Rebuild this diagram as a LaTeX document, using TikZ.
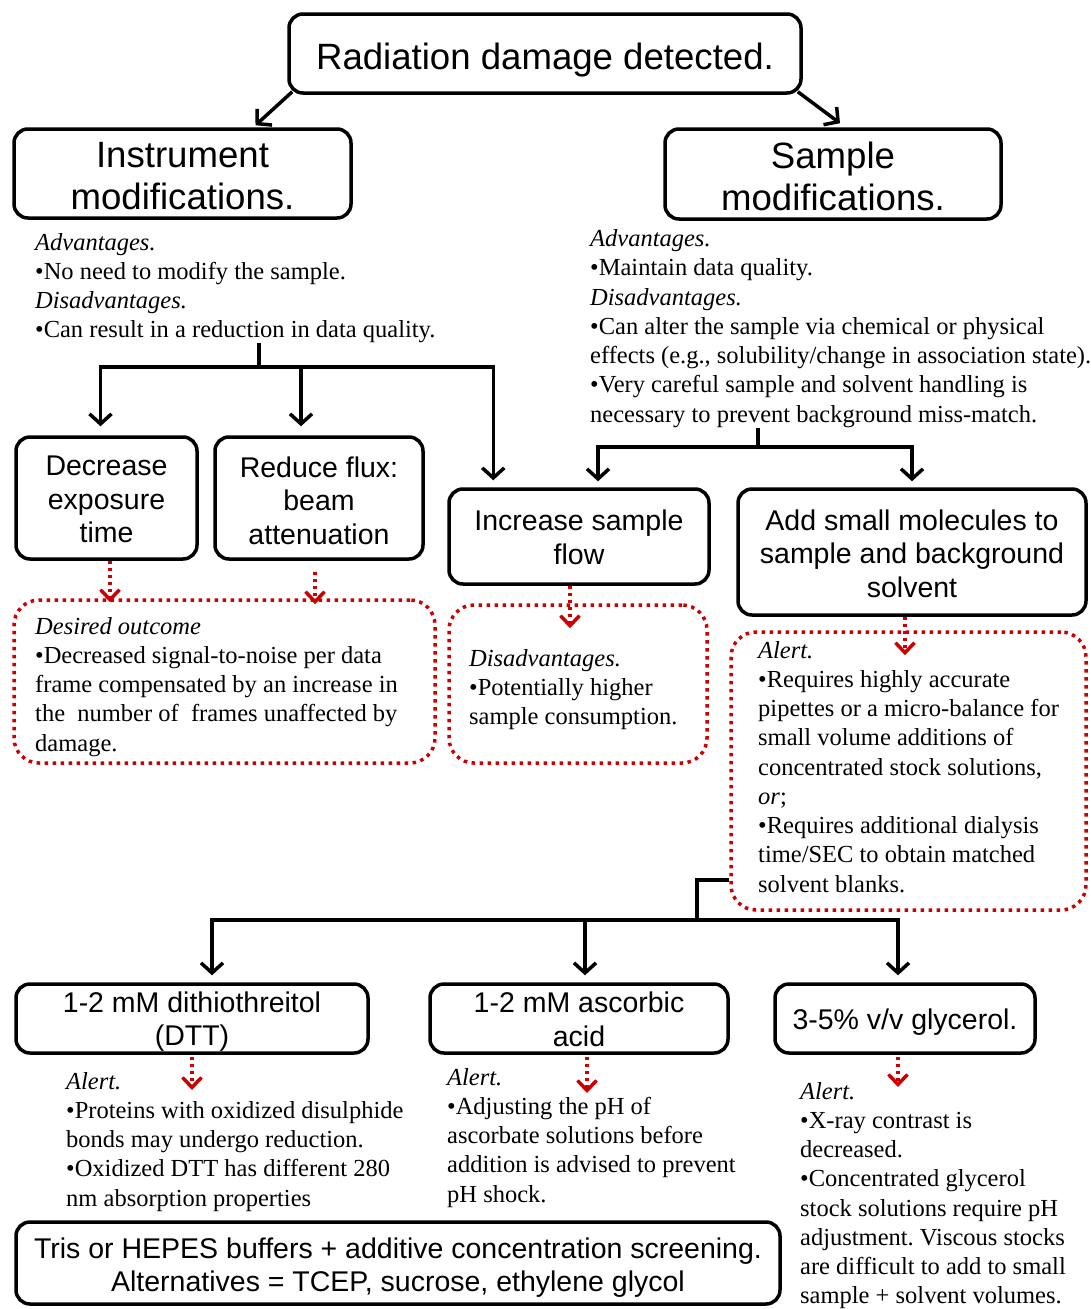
\documentclass[tikz,border=0pt]{standalone}
\usepackage{fontspec}
\setmainfont{Liberation Serif}
\setsansfont{Liberation Sans}
\usetikzlibrary{arrows.meta}
\definecolor{dred}{RGB}{204,0,0}
\frenchspacing
\begin{document}
\begin{tikzpicture}[x=1pt,y=-1pt,
 box/.style={draw,line width=3.5pt,rounded corners=14pt,inner sep=0pt},
 lab/.style={align=center,inner sep=0pt,font=\sffamily\fontsize{28.5}{33.5}\selectfont},
 biglab/.style={lab,font=\sffamily\fontsize{36.6}{42}\selectfont},
 dbox/.style={draw=dred,line width=3.5pt,dash pattern=on 3.5pt off 4.5pt,rounded corners=25pt,inner sep=0pt},
 txt/.style={anchor=north west,inner sep=0pt,align=left,font=\fontsize{24.5}{29.25}\selectfont},
 line/.style={line width=3.5pt},
 arr/.style={line,-{Straight Barb[length=10pt,width=22pt]}},
 rarr/.style={draw=dred,line width=3.5pt,dash pattern=on 3.5pt off 3.5pt,-{Straight Barb[length=10pt,width=19pt]}},
]
\useasboundingbox (0,0) rectangle (1090,1309);
\fill[white] (0,0) rectangle (1090,1309);

% boxes
\node[box,minimum width=512pt,minimum height=79pt,label={[biglab,yshift=-7pt]center:Radiation damage detected.}] (top) at (545,53.5) {};
\node[box,minimum width=337pt,minimum height=89pt,label={[biglab,yshift=-3pt]center:Instrument\\modifications.}] (instr) at (182.5,173.5) {};
\node[box,minimum width=336pt,minimum height=90pt,label={[biglab,yshift=-2.5pt]center:Sample\\modifications.}] (samp) at (833,174) {};
\node[box,minimum width=181pt,minimum height=122pt,label={[lab,yshift=-1.5pt]center:Decrease\\exposure\\time}] (dec) at (106.5,498) {};
\node[box,minimum width=208pt,minimum height=122pt,label={[lab,yshift=-2.5pt]center:Reduce flux:\\beam\\attenuation}] (flux) at (319,498) {};
\node[box,minimum width=260pt,minimum height=95pt,label={[lab,yshift=-1pt]center:Increase sample\\flow}] (inc) at (579,536.5) {};
\node[box,minimum width=348pt,minimum height=126pt,label={[lab,yshift=-1.5pt]center:Add small molecules to\\sample and background\\solvent}] (add) at (912,552) {};
\node[box,minimum width=352pt,minimum height=69pt,label={[lab,yshift=-3pt]center:1-2 mM dithiothreitol\\(DTT)}] (dtt) at (192,1018.5) {};
\node[box,minimum width=298pt,minimum height=69pt,label={[lab,yshift=-1pt]center:1-2 mM ascorbic\\acid}] (asc) at (579,1018.5) {};
\node[box,minimum width=260pt,minimum height=69pt,label={[lab,yshift=-4pt]center:3-5\% v/v glycerol.}] (gly) at (905,1018.5) {};
\node[box,minimum width=764pt,minimum height=82pt,label={[lab,yshift=-4.5pt]center:Tris or HEPES buffers + additive concentration screening.\\Alternatives = TCEP, sucrose, ethylene glycol}] (buf) at (398,1263) {};

% dotted outcome boxes
\node[dbox,minimum width=421pt,minimum height=163pt] (out1) at (224.5,681.5) {};
\node[dbox,minimum width=258pt,minimum height=158pt] (out2) at (578,684) {};
\node[dbox,minimum width=355pt,minimum height=278pt] (out3) at (908.5,771) {};

% texts
\node[txt] (insttxt) at (35,233) {\textit{Advantages.}\\•No need to modify the sample.\\\textit{Disadvantages.}\\•Can result in a reduction in data quality.};
\node[txt] (samptxt) at (590,229.5) {\textit{Advantages.}\\•Maintain data quality.\\\textit{Disadvantages.}\\•Can alter the sample via chemical or physical\\effects (e.g., solubility/change in association state).\\•Very careful sample and solvent handling is\\necessary to prevent background miss-match.};
\node[txt] (o1txt) at (35,617) {\textit{Desired outcome}\\•Decreased signal-to-noise per data\\frame compensated by an increase in\\the\ \ number of\ \ frames unaffected by\\damage.};
\node[txt] (o2txt) at (469,649) {\textit{Disadvantages.}\\•Potentially higher\\sample consumption.};
\node[txt] (o3txt) at (758,641) {\textit{Alert.}\\•Requires highly accurate\\pipettes or a micro-balance for\\small volume additions of\\concentrated stock solutions,\\\textit{or};\\•Requires additional dialysis\\time/SEC to obtain matched\\solvent blanks.};
\node[txt] (dtxt) at (66,1072) {\textit{Alert.}\\•Proteins with oxidized disulphide\\bonds may undergo reduction.\\•Oxidized DTT has different 280\\nm absorption properties};
\node[txt] (atxt) at (447,1068) {\textit{Alert.}\\•Adjusting the pH of\\ascorbate solutions before\\addition is advised to prevent\\pH shock.};
\node[txt] (gtxt) at (800,1082) {\textit{Alert.}\\•X-ray contrast is\\decreased.\\•Concentrated glycerol\\stock solutions require pH\\adjustment. Viscous stocks\\are difficult to add to small\\sample + solvent volumes.};

% top arrows
\draw[arr] ([xshift=5pt,yshift=3pt]top.south west) -- ([xshift=73pt,yshift=2pt]instr.north);
\draw[arr] ([xshift=-5pt,yshift=3pt]top.south east) -- ([xshift=7pt,yshift=4pt]samp.north);

% instrument branch
\coordinate (j1) at (259,367);
\draw[line] (j1 |- insttxt.south) -- (j1);
\draw[arr,shorten >=9pt] (j1) -| ([xshift=-6pt]dec.north);
\draw[arr,shorten >=9pt] (j1) -| ([xshift=-18pt]flux.north);
\draw[arr,shorten >=7pt] (j1) -| ([xshift=46pt]inc.north west);

% sample branch
\coordinate (j2) at (758,447);
\draw[line] (j2 |- samptxt.south) -- (j2);
\draw[arr,shorten >=6pt] (j2) -| ([xshift=19pt]inc.north);
\draw[arr,shorten >=6pt] (j2) -| (add.north);

% additive branch
\coordinate (j3) at (697,920);
\draw[line] ([yshift=-109pt]out3.west) -| (j3);
\draw[arr,shorten >=7pt] (j3) -| ([xshift=20pt]dtt.north);
\draw[arr,shorten >=7pt] (j3) -| ([xshift=6pt]asc.north);
\draw[arr,shorten >=7pt] (j3) -| ([xshift=-7pt]gly.north);

% red dotted arrows
\coordinate (r1) at ([xshift=3.5pt]dec.south);
\coordinate (r2) at ([xshift=-4pt,yshift=-11pt]flux.south);
\coordinate (r3) at ([xshift=-9pt]inc.south);
\coordinate (r4) at ([xshift=-7pt]add.south);
\coordinate (r5) at ([yshift=-2pt]dtt.south);
\coordinate (r6) at ([xshift=8pt,yshift=-2pt]asc.south);
\coordinate (r7) at ([xshift=-7pt,yshift=-2pt]gly.south);
\draw[rarr,shorten >=-4pt] (r1) -- (r1 |- out1.north);
\draw[rarr,shorten >=-6pt] (r2) -- (r2 |- out1.north);
\draw[rarr,shorten >=-25pt] (r3) -- (r3 |- out2.north);
\draw[rarr,shorten >=-25pt] (r4) -- (r4 |- out3.north);
\draw[rarr,shorten >=-18pt] (r5) -- (r5 |- dtxt.north);
\draw[rarr,shorten >=-25pt] (r6) -- (r6 |- atxt.north);
\draw[rarr,shorten >=-5pt] (r7) -- (r7 |- gtxt.north);
\end{tikzpicture}
\end{document}
